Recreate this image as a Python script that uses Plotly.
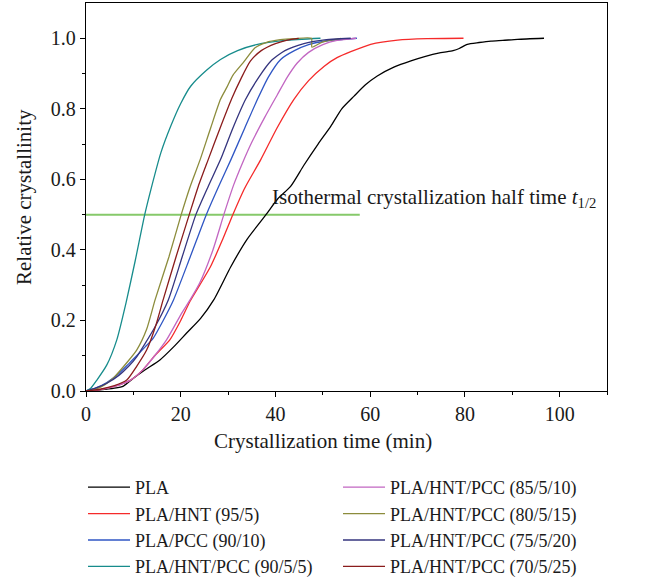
import plotly.graph_objects as go

# ---- data ----
t_pla = [0, 3, 6, 7.9, 10, 12.5, 15.6, 18.5, 21.3, 24.2, 27, 30.6, 34, 38, 40.5, 43.2, 46, 49, 51.7, 54, 56.6, 59, 61.5, 65, 68.6, 71.5, 74.9, 77.5, 78.8, 80.5, 83, 85.5, 88, 91.1, 96.7]
x_pla = [0, 0.003, 0.008, 0.014, 0.036, 0.06, 0.088, 0.125, 0.165, 0.206, 0.259, 0.353, 0.43, 0.5, 0.545, 0.58, 0.64, 0.7, 0.751, 0.8, 0.836, 0.868, 0.893, 0.918, 0.936, 0.948, 0.959, 0.965, 0.971, 0.983, 0.988, 0.992, 0.994, 0.997, 1.0]

t_hnt = [0, 3, 6, 9.3, 12, 14.5, 17.7, 20, 22, 24, 26.3, 28.7, 31, 33.5, 36.9, 40.3, 43.9, 47, 50.3, 53, 55.9, 60.1, 65.8, 72, 79.7]
x_hnt = [0, 0.004, 0.013, 0.03, 0.06, 0.1, 0.145, 0.2, 0.255, 0.3, 0.353, 0.425, 0.5, 0.575, 0.656, 0.745, 0.827, 0.88, 0.921, 0.945, 0.962, 0.983, 0.995, 0.999, 1.0]

t_pcc = [0, 2, 4.4, 7, 9, 10.7, 12.5, 14.2, 16.3, 18.5, 22, 25.4, 28, 30.6, 33.5, 36.2, 38.5, 41.1, 44, 47, 51, 57.2]
x_pcc = [0, 0.008, 0.024, 0.05, 0.077, 0.1, 0.125, 0.15, 0.2, 0.259, 0.38, 0.5, 0.58, 0.656, 0.745, 0.827, 0.89, 0.94, 0.965, 0.982, 0.993, 1.0]

t_905 = [0, 1, 2.3, 4.4, 6.5, 8.45, 10.4, 12.4, 13.7, 15.8, 17.9, 20, 22.1, 25.5, 28.4, 32, 36, 42, 49.5]
x_905 = [0, 0.008, 0.031, 0.074, 0.145, 0.25, 0.37, 0.5, 0.571, 0.675, 0.751, 0.815, 0.864, 0.91, 0.94, 0.965, 0.982, 0.994, 1.0]

t_8510 = [0, 3, 6, 9.3, 12, 14.5, 17, 20, 22, 24, 26.8, 29.1, 31.2, 33.0, 35.0, 37.7, 40.4, 42.5, 44.6, 47, 50, 53, 57]
x_8510 = [0, 0.004, 0.013, 0.03, 0.06, 0.1, 0.145, 0.216, 0.259, 0.306, 0.4, 0.5, 0.585, 0.645, 0.705, 0.775, 0.84, 0.89, 0.93, 0.96, 0.982, 0.994, 1.0]

t_8015 = [0, 2, 4, 6, 8.6, 10.7, 12.8, 14.6, 17.5, 20.1, 22, 24.1, 26.3, 28.4, 29.7, 31, 33.2, 35.7, 38, 41, 44, 47.6, 47.7, 50, 53.8]
x_8015 = [0, 0.005, 0.018, 0.04, 0.08, 0.116, 0.175, 0.259, 0.38, 0.5, 0.58, 0.656, 0.745, 0.827, 0.86, 0.895, 0.931, 0.973, 0.988, 0.996, 0.999, 1.0, 0.975, 0.99, 1.0]

t_7520 = [0, 2, 4.4, 7, 9, 10.7, 12.5, 14.5, 17.4, 20.3, 23.2, 25.8, 28.4, 31, 33.7, 36.5, 39, 42, 46, 50, 55.9]
x_7520 = [0, 0.008, 0.022, 0.045, 0.07, 0.097, 0.135, 0.18, 0.259, 0.38, 0.5, 0.58, 0.656, 0.745, 0.827, 0.89, 0.935, 0.965, 0.985, 0.995, 1.0]

t_7025 = [0, 3, 6, 8.6, 10.7, 12.8, 14.6, 16.3, 19, 21.8, 23.7, 25.8, 28.3, 30.8, 32.7, 34.7, 37, 40, 42.5, 44.9]
x_7025 = [0, 0.005, 0.015, 0.031, 0.07, 0.116, 0.18, 0.259, 0.38, 0.5, 0.58, 0.656, 0.745, 0.83, 0.885, 0.935, 0.965, 0.985, 0.995, 1.0]

half_t = [0, 57.8]
half_x = [0.5, 0.5]

names = ["PLA", "PLA/HNT (95/5)", "PLA/PCC (90/10)", "PLA/HNT/PCC (90/5/5)",
         "PLA/HNT/PCC (85/5/10)", "PLA/HNT/PCC (80/5/15)", "PLA/HNT/PCC (75/5/20)", "PLA/HNT/PCC (70/5/25)"]
series_t = [t_pla, t_hnt, t_pcc, t_905, t_8510, t_8015, t_7520, t_7025]
series_x = [x_pla, x_hnt, x_pcc, x_905, x_8510, x_8015, x_7520, x_7025]
colors = ["#000000", "#f52a2a", "#2f56c4", "#178c8c", "#c266c2", "#8c8c3c", "#34347e", "#8a1c1c"]

FONT = "Liberation Serif, Times New Roman, serif"
TXT = "#1a1a1a"

fig = go.Figure()
fig.add_trace(go.Scatter(x=half_t, y=half_x, mode="lines", line=dict(color="#86c96a", width=2),
                         showlegend=False, hoverinfo="skip"))
for i, (n, t, x, c) in enumerate(zip(names, series_t, series_x, colors)):
    fig.add_trace(go.Scatter(x=t, y=x, mode="lines", name=n,
                             line=dict(color=c, width=1.3, shape="spline", smoothing=0.6),
                             legend="legend" if i < 4 else "legend2"))

axis_common = dict(showline=True, linecolor="black", linewidth=1.3, mirror=True,
                   ticks="outside", ticklen=5, tickwidth=1.3, tickcolor="black",
                   showgrid=False, zeroline=False, automargin=False,
                   tickfont=dict(family=FONT, size=20, color=TXT))

fig.update_xaxes(range=[0, 110], tickvals=[0, 20, 40, 60, 80, 100],
                 minor=dict(tickvals=[10, 30, 50, 70, 90, 110], ticklen=3, tickwidth=1.3,
                            ticks="outside", tickcolor="black"),
                 **axis_common)
fig.update_yaxes(range=[0, 1.1], tickvals=[0, 0.2, 0.4, 0.6, 0.8, 1.0], tickformat=".1f",
                 minor=dict(tickvals=[0.1, 0.3, 0.5, 0.7, 0.9], ticklen=3, tickwidth=1.3,
                            ticks="outside", tickcolor="black"),
                 **axis_common)

fig.add_annotation(x=0, y=0.5, xref="paper", yref="paper", xanchor="center", yanchor="middle",
                   xshift=-62, textangle=-90, text="Relative crystallinity", showarrow=False,
                   font=dict(family=FONT, size=21, color=TXT))
fig.add_annotation(x=50, y=-0.129, xref="x", yref="paper", text="Crystallization time (min)",
                   showarrow=False, yanchor="middle",
                   font=dict(family=FONT, size=21, color=TXT))
fig.add_annotation(x=38.8, y=0.5, xref="x", yref="y", xanchor="left", yanchor="bottom", yshift=2,
                   text="Isothermal crystallization half time <i>t</i><sub>1/2</sub>",
                   showarrow=False, font=dict(family=FONT, size=21, color=TXT))

legend_common = dict(orientation="v", yanchor="top", xanchor="left", bgcolor="rgba(0,0,0,0)",
                     font=dict(family=FONT, size=18, color=TXT), itemwidth=42,
                     tracegroupgap=0, xref="container", yref="container")
fig.update_layout(
    width=657, height=581,
    margin=dict(l=86, r=50, t=3, b=190, autoexpand=False),
    plot_bgcolor="white", paper_bgcolor="white",
    legend=dict(x=83.0 / 657, y=(581 - 469) / 581, **legend_common),
    legend2=dict(x=338.0 / 657, y=(581 - 469) / 581, **legend_common),
)

fig.write_html("out.html", config={"displayModeBar": False},
               post_script="document.body.style.margin='0';document.body.style.padding='0';")
